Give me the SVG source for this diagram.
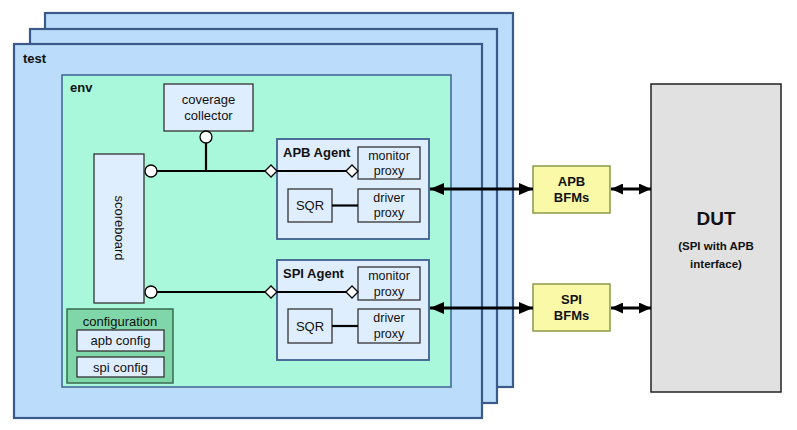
<svg xmlns="http://www.w3.org/2000/svg" width="797" height="430" viewBox="0 0 797 430">
<style>
text{font-family:"Liberation Sans",Arial,sans-serif;fill:#111}
.b{font-weight:bold}
.test{fill:#bbdcfb;stroke:#3b5a8a;stroke-width:2.2}
.env{fill:#a9f8dc;stroke:#46699a;stroke-width:1.6}
.comp{fill:#dfeefe;stroke:#333;stroke-width:1.3}
.agent{fill:#dfeefe;stroke:#3e5f8f;stroke-width:1.8}
.bfm{fill:#f9f9a8;stroke:#8a9a4a;stroke-width:1.5}
.ln{stroke:#000;stroke-width:2.2;fill:none}
.port{fill:#fff;stroke:#000;stroke-width:1.3}
.t13{font-size:13px}
.t12{font-size:12.5px}
</style>
<defs>
<marker id="ah" viewBox="0 0 14 12" refX="14" refY="6" markerWidth="14" markerHeight="12" markerUnits="userSpaceOnUse" orient="auto-start-reverse">
<path d="M0,0 L14,6 L0,12 Z" fill="#000"/>
</marker>
<marker id="ahs" viewBox="0 0 12 11" refX="12" refY="5.5" markerWidth="12" markerHeight="11" markerUnits="userSpaceOnUse" orient="auto-start-reverse">
<path d="M0,0 L12,5.5 L0,11 Z" fill="#000"/>
</marker>
</defs>

<g id="test-stack">
<rect class="test" x="45" y="13" width="468" height="374"/>
<rect class="test" x="30" y="29" width="467" height="374"/>
</g>
<g id="test">
<rect class="test" x="14" y="44" width="468" height="374"/>
<text class="b t13" x="23" y="63">test</text>
</g>
<g id="env">
<rect class="env" x="62" y="75" width="389" height="312"/>
<text class="b t13" x="70" y="92">env</text>
</g>
<g id="coverage-collector">
<rect class="comp" x="164" y="84" width="89" height="47"/>
<text class="t13" x="208.5" y="104" text-anchor="middle">coverage</text>
<text class="t13" x="208.5" y="120" text-anchor="middle">collector</text>
</g>
<g id="scoreboard">
<rect class="comp" x="94" y="154" width="50" height="149"/>
<text class="t13" x="0" y="0" text-anchor="middle" transform="translate(115,228) rotate(90)">scoreboard</text>
</g>
<g id="configuration">
<rect x="67" y="309" width="106" height="74" fill="#7fd6a8" stroke="#3a6a4f" stroke-width="1.5"/>
<text class="t13" x="120" y="326" text-anchor="middle">configuration</text>
<rect class="comp" x="77" y="330" width="87" height="21"/>
<text class="t13" x="120.5" y="345" text-anchor="middle">apb config</text>
<rect class="comp" x="77" y="357" width="87" height="20"/>
<text class="t13" x="120.5" y="372" text-anchor="middle">spi config</text>
</g>
<g id="apb-agent">
<rect class="agent" x="277" y="139" width="152" height="100"/>
<text class="b t13" x="283" y="157">APB Agent</text>
<rect class="comp" x="358" y="147" width="62" height="32"/>
<text class="t12" x="389" y="160" text-anchor="middle">monitor</text>
<text class="t12" x="389" y="175" text-anchor="middle">proxy</text>
<rect class="comp" x="288" y="189" width="44" height="33"/>
<text class="t13" x="310" y="210" text-anchor="middle">SQR</text>
<rect class="comp" x="358" y="189" width="62" height="33"/>
<text class="t12" x="389" y="202" text-anchor="middle">driver</text>
<text class="t12" x="389" y="217" text-anchor="middle">proxy</text>
</g>
<g id="spi-agent">
<rect class="agent" x="277" y="260" width="152" height="100"/>
<text class="b t13" x="283" y="278">SPI Agent</text>
<rect class="comp" x="358" y="267" width="62" height="33"/>
<text class="t12" x="389" y="280" text-anchor="middle">monitor</text>
<text class="t12" x="389" y="296" text-anchor="middle">proxy</text>
<rect class="comp" x="288" y="309" width="44" height="34"/>
<text class="t13" x="310" y="331" text-anchor="middle">SQR</text>
<rect class="comp" x="358" y="309" width="62" height="34"/>
<text class="t12" x="389" y="322" text-anchor="middle">driver</text>
<text class="t12" x="389" y="338" text-anchor="middle">proxy</text>
</g>
<g id="apb-bfms">
<rect class="bfm" x="533" y="166" width="77" height="47"/>
<text class="b t13" x="571.5" y="186" text-anchor="middle">APB</text>
<text class="b t13" x="571.5" y="202" text-anchor="middle">BFMs</text>
</g>
<g id="spi-bfms">
<rect class="bfm" x="533" y="284" width="77" height="47"/>
<text class="b t13" x="571.5" y="304" text-anchor="middle">SPI</text>
<text class="b t13" x="571.5" y="320" text-anchor="middle">BFMs</text>
</g>
<g id="dut">
<rect x="651" y="84" width="130" height="308" fill="#e1e1e1" stroke="#222" stroke-width="1.5"/>
<text class="b" x="716" y="225" text-anchor="middle" font-size="19">DUT</text>
<text class="b" x="716" y="250" text-anchor="middle" font-size="11.5">(SPI with APB</text>
<text class="b" x="716" y="268" text-anchor="middle" font-size="11.5">interface)</text>
</g>

<g id="connectors">
<line class="ln" x1="206" y1="143" x2="206" y2="171"/>
<line class="ln" x1="157" y1="171" x2="265" y2="171"/>
<line class="ln" x1="277" y1="171" x2="346" y2="171"/>
<line class="ln" x1="157" y1="292" x2="265" y2="292"/>
<line class="ln" x1="277" y1="292" x2="346" y2="292"/>
<line class="ln" x1="332" y1="205.5" x2="358" y2="205.5"/>
<line class="ln" x1="332" y1="326" x2="358" y2="326"/>
<circle class="port" cx="206" cy="137" r="6"/>
<circle class="port" cx="151" cy="171" r="6"/>
<circle class="port" cx="151" cy="292" r="6"/>
<path class="port" d="M265,171 L271,165 L277,171 L271,177 Z"/>
<path class="port" d="M346,171 L352,165 L358,171 L352,177 Z"/>
<path class="port" d="M265,292 L271,286 L277,292 L271,298 Z"/>
<path class="port" d="M346,292 L352,286 L358,292 L352,298 Z"/>
<line x1="430" y1="189" x2="533" y2="189" stroke="#000" stroke-width="3" marker-start="url(#ah)" marker-end="url(#ah)"/>
<line x1="430" y1="308" x2="533" y2="308" stroke="#000" stroke-width="3" marker-start="url(#ah)" marker-end="url(#ah)"/>
<line x1="611" y1="189" x2="651" y2="189" stroke="#000" stroke-width="3" marker-start="url(#ahs)" marker-end="url(#ahs)"/>
<line x1="611" y1="308" x2="651" y2="308" stroke="#000" stroke-width="3" marker-start="url(#ahs)" marker-end="url(#ahs)"/>
</g>
</svg>
